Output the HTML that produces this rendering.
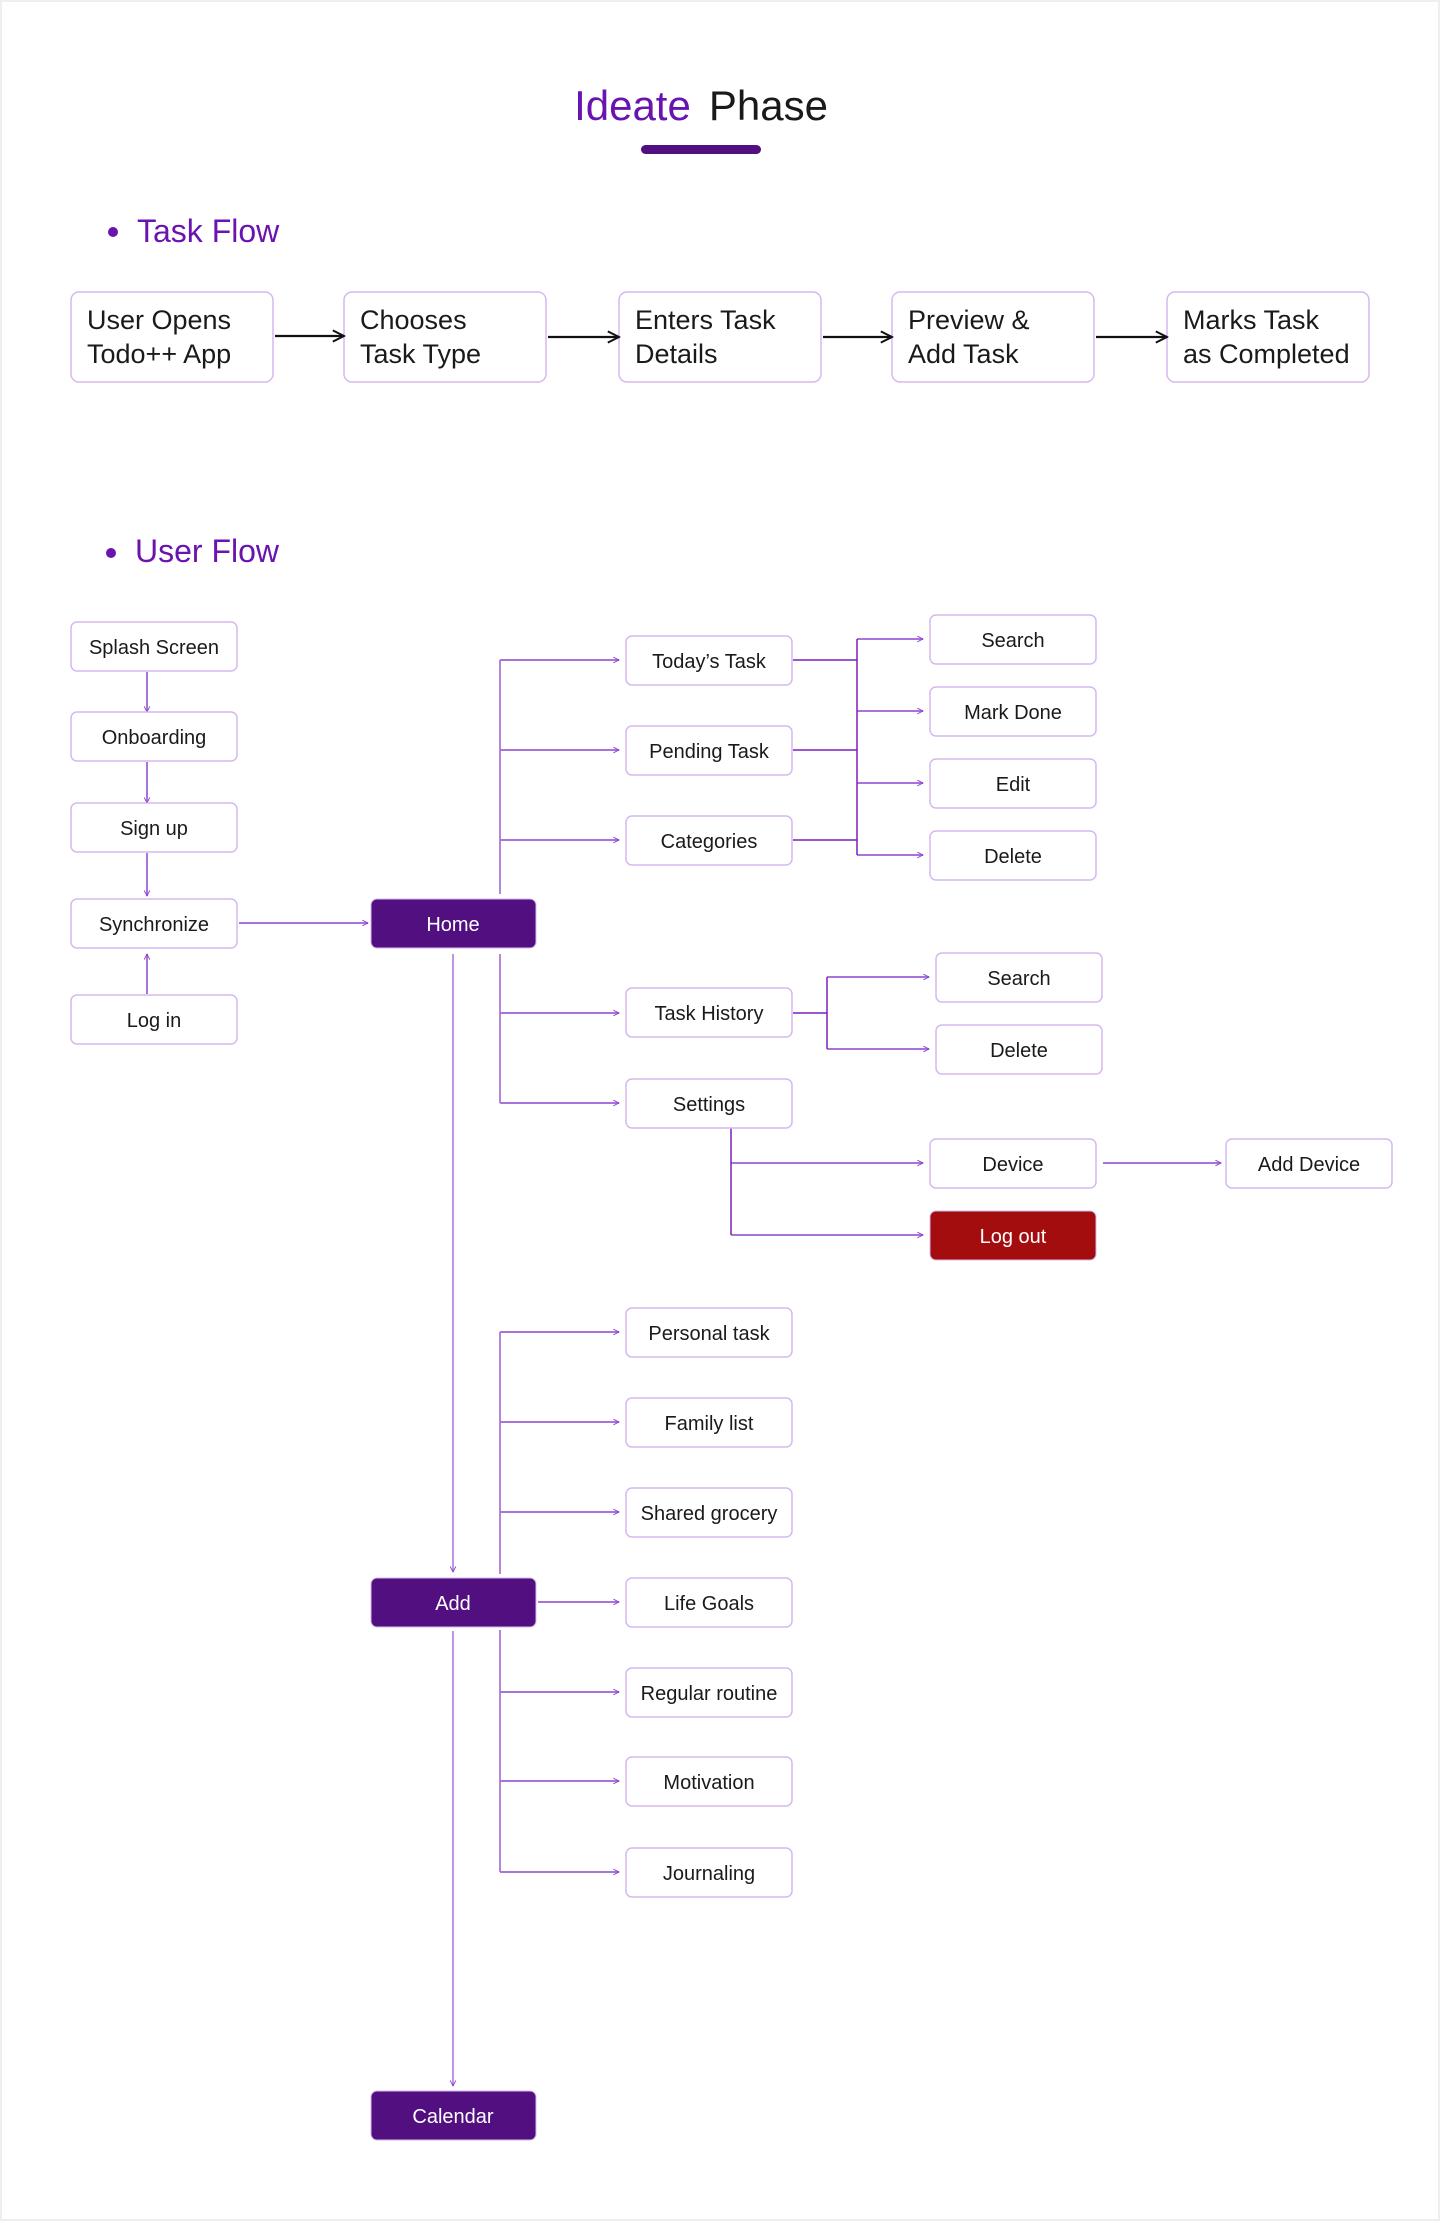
<!DOCTYPE html>
<html><head><meta charset="utf-8"><style>
html,body{margin:0;padding:0;background:#fff}
svg{display:block}
text{font-family:"Liberation Sans",sans-serif}
</style></head><body>
<svg width="1440" height="2221" viewBox="0 0 1440 2221" xmlns="http://www.w3.org/2000/svg">
<defs>
<marker id="a" viewBox="0 0 10 10" refX="9" refY="5" markerWidth="7" markerHeight="7" orient="auto" markerUnits="userSpaceOnUse"><path d="M1,1 L9,5 L1,9" fill="none" stroke="#8a3fd0" stroke-width="1.3"/></marker>
<marker id="b" viewBox="0 0 10 10" refX="9" refY="5" markerWidth="14" markerHeight="14" orient="auto" markerUnits="userSpaceOnUse"><path d="M1,1 L9,5 L1,9" fill="none" stroke="#111" stroke-width="1.4"/></marker>
</defs>
<rect x="0.5" y="0.5" width="1439" height="2220" fill="#fff" stroke="#eee" stroke-width="3"/>
<text x="701" y="120" font-size="42" text-anchor="middle"><tspan fill="#6a14b0">Ideate</tspan><tspan fill="#1a1a1a" dx="18">Phase</tspan></text>
<rect x="641" y="145" width="120" height="9" rx="4.5" fill="#520f7f"/>
<circle cx="113" cy="232" r="5" fill="#6a14b0"/>
<text x="137" y="242" font-size="32" fill="#6a14b0">Task Flow</text>
<circle cx="111" cy="553" r="5" fill="#6a14b0"/>
<text x="135" y="562" font-size="32" fill="#6a14b0">User Flow</text>
<g fill="#fff" stroke="#d6b8f0" stroke-width="1.5">
<rect x="71" y="292" width="202" height="90" rx="8"/>
<rect x="344" y="292" width="202" height="90" rx="8"/>
<rect x="619" y="292" width="202" height="90" rx="8"/>
<rect x="892" y="292" width="202" height="90" rx="8"/>
<rect x="1167" y="292" width="202" height="90" rx="8"/>
</g>
<g font-size="27" fill="#1a1a1a">
<text x="87" y="329">User Opens</text><text x="87" y="363">Todo++ App</text>
<text x="360" y="329">Chooses</text><text x="360" y="363">Task Type</text>
<text x="635" y="329">Enters Task</text><text x="635" y="363">Details</text>
<text x="908" y="329">Preview &amp;</text><text x="908" y="363">Add Task</text>
<text x="1183" y="329">Marks Task</text><text x="1183" y="363">as Completed</text>
</g>
<g stroke="#111" stroke-width="2.2" marker-end="url(#b)">
<line x1="275" y1="336" x2="344" y2="336"/>
<line x1="548" y1="337" x2="619" y2="337"/>
<line x1="823" y1="337" x2="892" y2="337"/>
<line x1="1096" y1="337" x2="1167" y2="337"/>
</g>
<!-- connectors -->
<g stroke="#a873da" stroke-width="2" fill="none">
<line x1="147" y1="672" x2="147" y2="712" marker-end="url(#a)"/>
<line x1="147" y1="762" x2="147" y2="803" marker-end="url(#a)"/>
<line x1="147" y1="853" x2="147" y2="896" marker-end="url(#a)"/>
<line x1="147" y1="994" x2="147" y2="954" marker-end="url(#a)"/>
<line x1="239" y1="923" x2="368" y2="923" marker-end="url(#a)"/>
<line x1="500" y1="660" x2="500" y2="894" stroke="#9a5fd4" stroke-width="1.5"/>
<line x1="500" y1="954" x2="500" y2="1103" stroke="#9a5fd4" stroke-width="1.5"/>
<line x1="500" y1="660" x2="619" y2="660" marker-end="url(#a)"/>
<line x1="500" y1="750" x2="619" y2="750" marker-end="url(#a)"/>
<line x1="500" y1="840" x2="619" y2="840" marker-end="url(#a)"/>
<line x1="500" y1="1013" x2="619" y2="1013" marker-end="url(#a)"/>
<line x1="500" y1="1103" x2="619" y2="1103" marker-end="url(#a)"/>
<line x1="857" y1="639" x2="923" y2="639" marker-end="url(#a)"/>
<line x1="857" y1="711" x2="923" y2="711" marker-end="url(#a)"/>
<line x1="857" y1="783" x2="923" y2="783" marker-end="url(#a)"/>
<line x1="857" y1="855" x2="923" y2="855" marker-end="url(#a)"/>
<line x1="827" y1="977" x2="929" y2="977" marker-end="url(#a)"/>
<line x1="827" y1="1049" x2="929" y2="1049" marker-end="url(#a)"/>
<line x1="731" y1="1163" x2="923" y2="1163" marker-end="url(#a)"/>
<line x1="731" y1="1235" x2="923" y2="1235" marker-end="url(#a)"/>
<line x1="1103" y1="1163" x2="1221" y2="1163" marker-end="url(#a)"/>
<line x1="453" y1="954" x2="453" y2="1572" stroke-width="1.5" marker-end="url(#a)"/>
<line x1="453" y1="1631" x2="453" y2="2086" stroke-width="1.5" marker-end="url(#a)"/>
<line x1="500" y1="1332" x2="500" y2="1574" stroke="#9a5fd4" stroke-width="1.5"/>
<line x1="500" y1="1630" x2="500" y2="1872" stroke="#9a5fd4" stroke-width="1.5"/>
<line x1="500" y1="1332" x2="619" y2="1332" marker-end="url(#a)"/>
<line x1="500" y1="1422" x2="619" y2="1422" marker-end="url(#a)"/>
<line x1="500" y1="1512" x2="619" y2="1512" marker-end="url(#a)"/>
<line x1="538" y1="1602" x2="619" y2="1602" marker-end="url(#a)"/>
<line x1="500" y1="1692" x2="619" y2="1692" marker-end="url(#a)"/>
<line x1="500" y1="1781" x2="619" y2="1781" marker-end="url(#a)"/>
<line x1="500" y1="1872" x2="619" y2="1872" marker-end="url(#a)"/>
</g>
<g stroke="#7a1fc0" stroke-width="1.5" fill="none">
<path d="M793 660 H857 M793 750 H857 M793 840 H857 M857 639 V855"/>
<path d="M793 1013 H827 M827 977 V1049"/>
<path d="M731 1128 V1235"/>
</g>
<!-- nodes -->
<g fill="#fff" stroke="#d6b8f0" stroke-width="1.5">
<rect x="71" y="622" width="166" height="49" rx="6"/>
<rect x="71" y="712" width="166" height="49" rx="6"/>
<rect x="71" y="803" width="166" height="49" rx="6"/>
<rect x="71" y="899" width="166" height="49" rx="6"/>
<rect x="71" y="995" width="166" height="49" rx="6"/>
<rect x="626" y="636" width="166" height="49" rx="6"/>
<rect x="626" y="726" width="166" height="49" rx="6"/>
<rect x="626" y="816" width="166" height="49" rx="6"/>
<rect x="626" y="988" width="166" height="49" rx="6"/>
<rect x="626" y="1079" width="166" height="49" rx="6"/>
<rect x="930" y="615" width="166" height="49" rx="6"/>
<rect x="930" y="687" width="166" height="49" rx="6"/>
<rect x="930" y="759" width="166" height="49" rx="6"/>
<rect x="930" y="831" width="166" height="49" rx="6"/>
<rect x="936" y="953" width="166" height="49" rx="6"/>
<rect x="936" y="1025" width="166" height="49" rx="6"/>
<rect x="930" y="1139" width="166" height="49" rx="6"/>
<rect x="1226" y="1139" width="166" height="49" rx="6"/>
<rect x="626" y="1308" width="166" height="49" rx="6"/>
<rect x="626" y="1398" width="166" height="49" rx="6"/>
<rect x="626" y="1488" width="166" height="49" rx="6"/>
<rect x="626" y="1578" width="166" height="49" rx="6"/>
<rect x="626" y="1668" width="166" height="49" rx="6"/>
<rect x="626" y="1757" width="166" height="49" rx="6"/>
<rect x="626" y="1848" width="166" height="49" rx="6"/>
</g>
<g fill="#520f7f" stroke="#d6b8f0" stroke-width="1">
<rect x="371" y="899" width="165" height="49" rx="6"/>
<rect x="371" y="1578" width="165" height="49" rx="6"/>
<rect x="371" y="2091" width="165" height="49" rx="6"/>
</g>
<rect x="930" y="1211" width="166" height="49" rx="6" fill="#a30d0d" stroke="#d6b8f0" stroke-width="1"/>
<g font-size="20" fill="#1a1a1a" text-anchor="middle">
<text x="154" y="654">Splash Screen</text>
<text x="154" y="744">Onboarding</text>
<text x="154" y="835">Sign up</text>
<text x="154" y="931">Synchronize</text>
<text x="154" y="1027">Log in</text>
<text x="709" y="668">Today’s Task</text>
<text x="709" y="758">Pending Task</text>
<text x="709" y="848">Categories</text>
<text x="709" y="1020">Task History</text>
<text x="709" y="1111">Settings</text>
<text x="1013" y="647">Search</text>
<text x="1013" y="719">Mark Done</text>
<text x="1013" y="791">Edit</text>
<text x="1013" y="863">Delete</text>
<text x="1019" y="985">Search</text>
<text x="1019" y="1057">Delete</text>
<text x="1013" y="1171">Device</text>
<text x="1309" y="1171">Add Device</text>
<text x="709" y="1340">Personal task</text>
<text x="709" y="1430">Family list</text>
<text x="709" y="1520">Shared grocery</text>
<text x="709" y="1610">Life Goals</text>
<text x="709" y="1700">Regular routine</text>
<text x="709" y="1789">Motivation</text>
<text x="709" y="1880">Journaling</text>
</g>
<g font-size="20" fill="#fff" text-anchor="middle">
<text x="453" y="931">Home</text>
<text x="453" y="1610">Add</text>
<text x="453" y="2123">Calendar</text>
<text x="1013" y="1243">Log out</text>
</g>
</svg>
</body></html>
